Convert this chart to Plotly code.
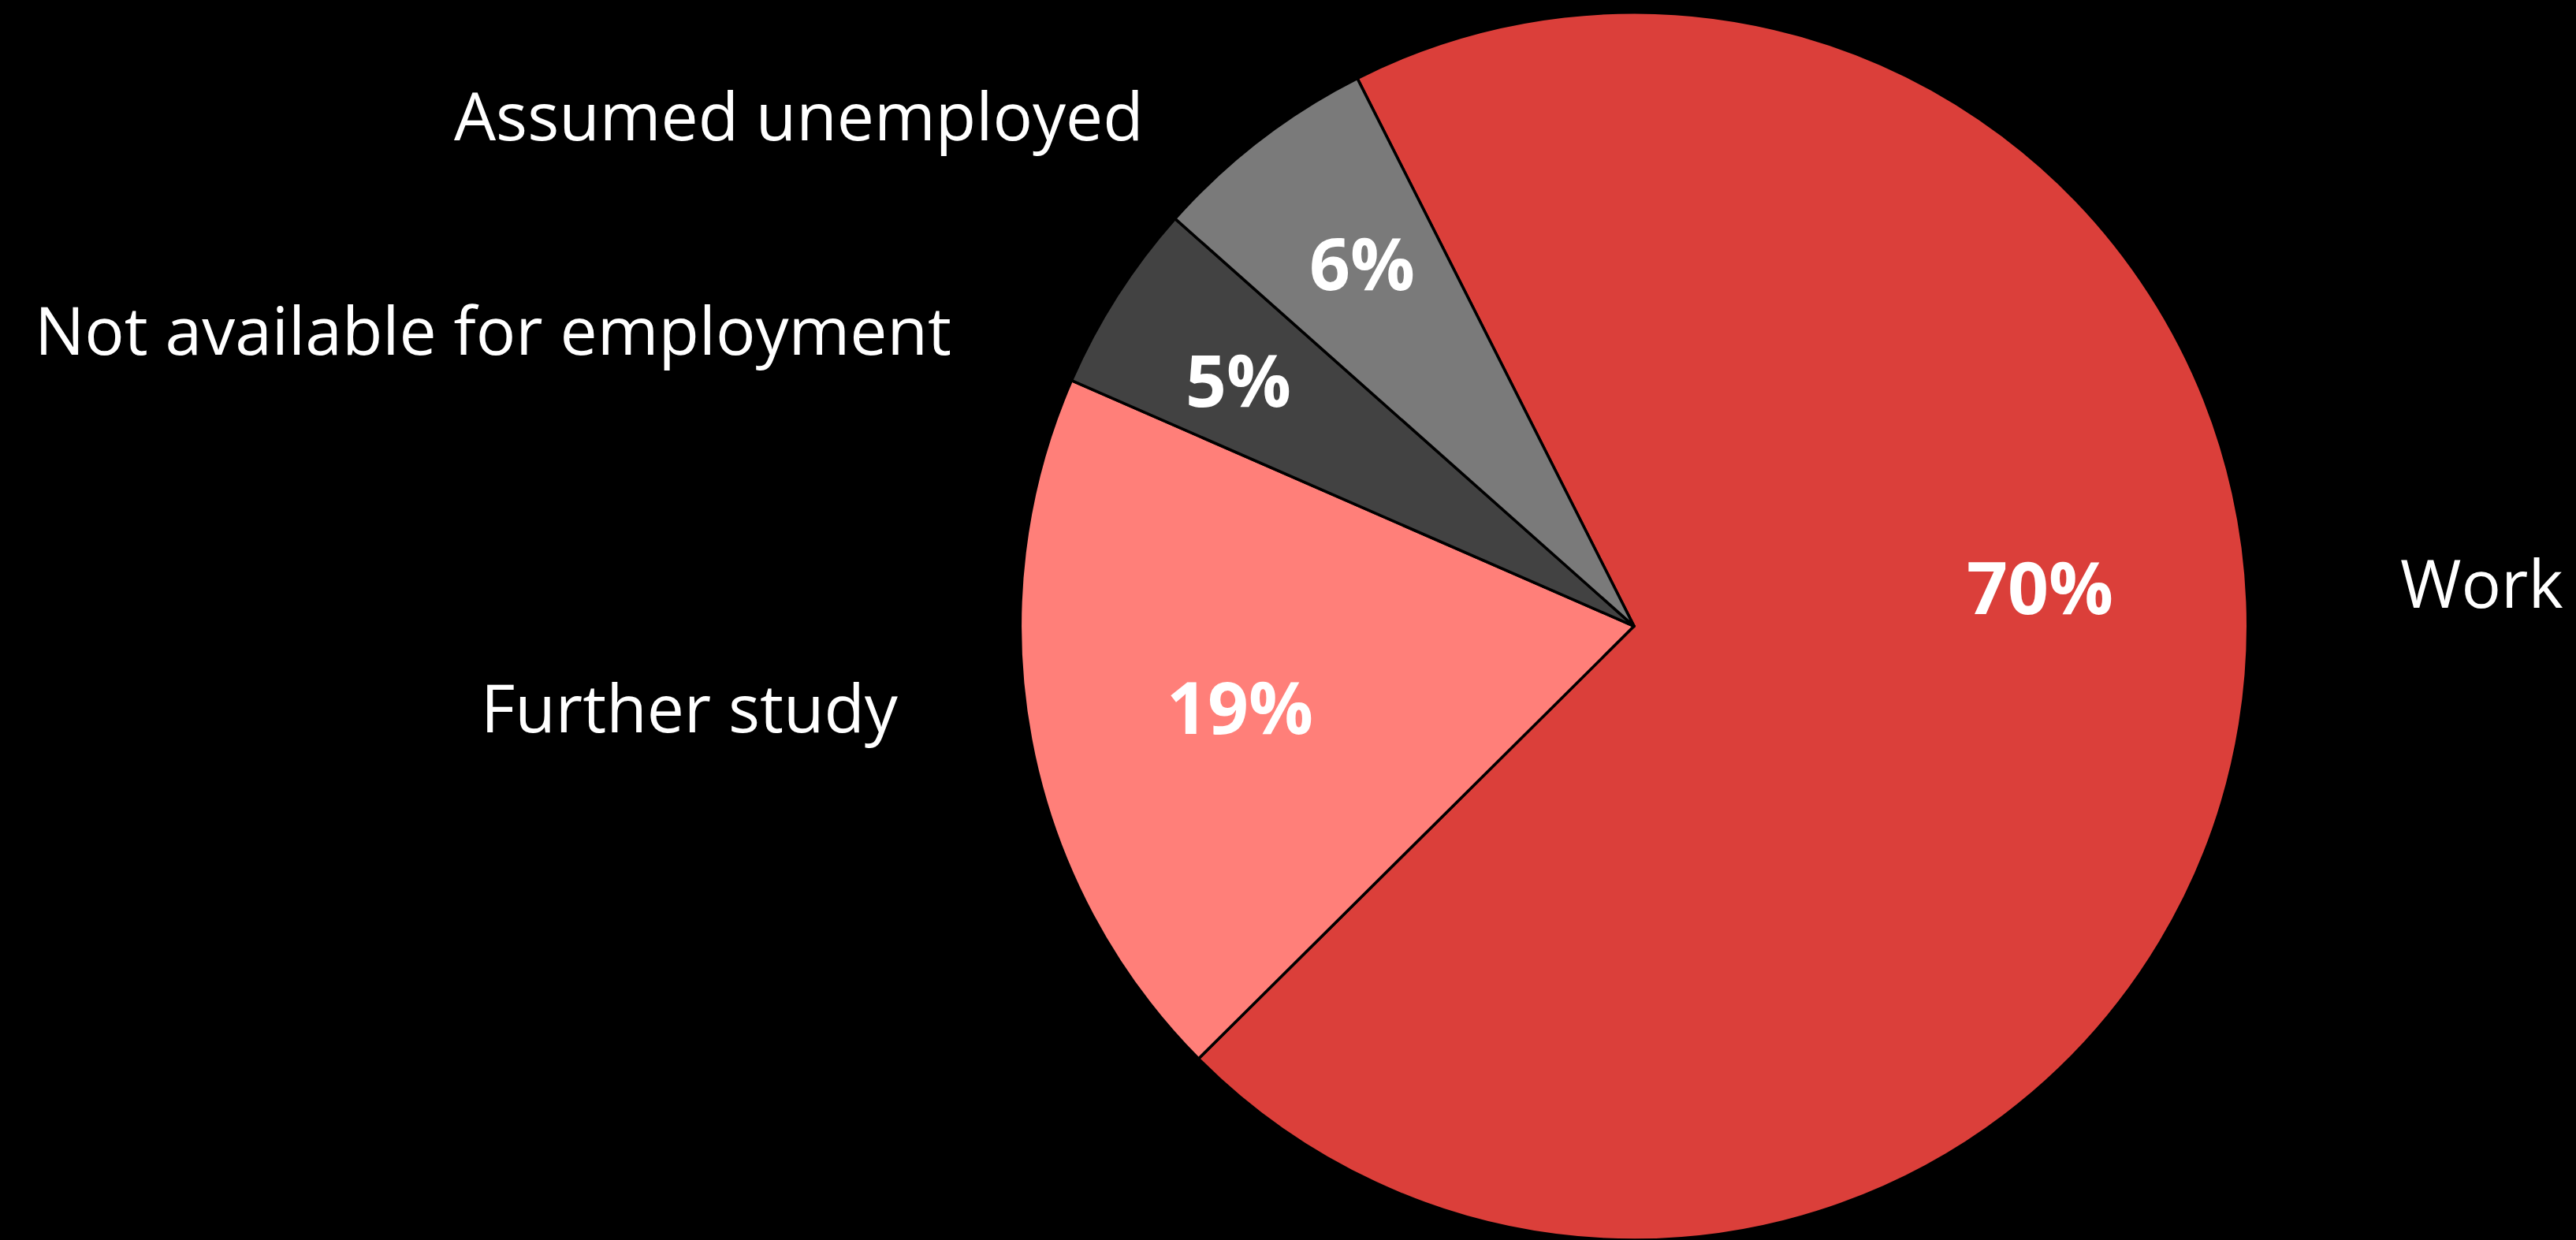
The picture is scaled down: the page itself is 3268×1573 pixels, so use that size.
import plotly.graph_objects as go

categories = ["Work", "Further study", "Not available for employment", "Assumed unemployed"]
values = [70, 19, 5, 6]
colors = ["#DB3F3A", "#FF7F79", "#424242", "#7A7A7A"]

W, H = 3268, 1573
# label placement (layout only), paper coords
outside_pos = [(3043/W, 1 - 738/H, "left"),
               (1142/W, 1 - 896/H, "right"),
               (1209/W, 1 - 417/H, "right"),
               (1453/W, 1 - 146/H, "right")]
inside_pos = [(2588/W, 1 - 744/H),
              (1573/W, 1 - 896/H),
              (1571/W, 1 - 481/H),
              (1728/W, 1 - 333/H)]

cx = 2073 / W
fig = go.Figure(go.Pie(
    labels=categories, values=values, sort=False, direction="clockwise",
    rotation=-26.8, textinfo="none", hoverinfo="label+percent",
    marker=dict(colors=colors, line=dict(color="#000000", width=3.5)),
    domain=dict(x=[cx - 0.3, cx + 0.3], y=[0, 0.99]),
    showlegend=False,
))

ann = []
total = sum(values)
for cat, (x, y, anc) in zip(categories, outside_pos):
    ann.append(dict(x=x, y=y, xref="paper", yref="paper", text=cat, showarrow=False,
                    xanchor=anc, yanchor="middle",
                    font=dict(family="Open Sans", size=84, color="white")))
for v, (x, y) in zip(values, inside_pos):
    ann.append(dict(x=x, y=y, xref="paper", yref="paper", text=f"{round(100*v/total)}%",
                    showarrow=False, xanchor="center", yanchor="middle",
                    font=dict(family="Open Sans", size=91, color="white", weight="bold")))

fig.update_layout(width=W, height=H, margin=dict(l=0, r=0, t=0, b=0),
                  paper_bgcolor="black", plot_bgcolor="black", annotations=ann)
fig.write_html("out.html", config={"displayModeBar": False},
               post_script="document.body.style.margin='0';document.body.style.background='black';")
